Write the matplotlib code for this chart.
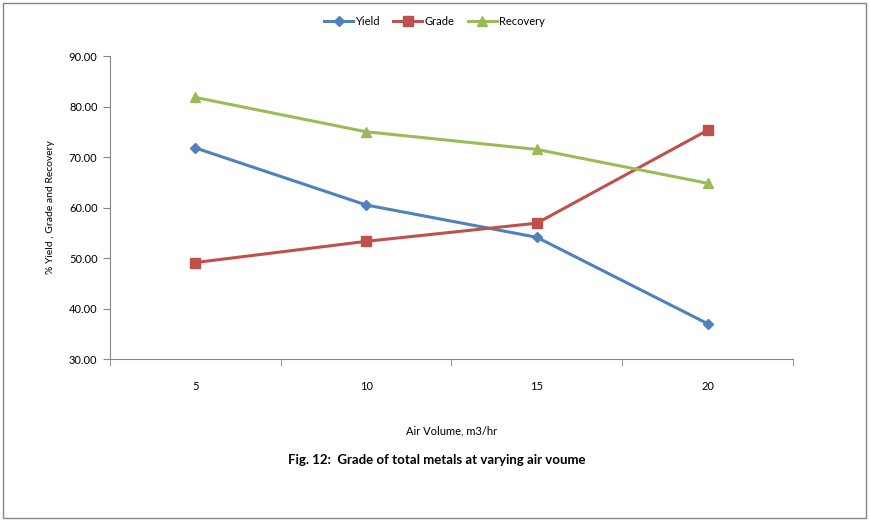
import matplotlib.pyplot as plt
from matplotlib.patches import Rectangle

plt.rcParams['font.family'] = ['Lato', 'DejaVu Sans']

air_volume = ['5', '10', '15', '20']
yield_pct = [71.8, 60.5, 54.1, 37.0]
grade_pct = [49.1, 53.3, 56.9, 75.3]
recovery_pct = [81.8, 75.0, 71.5, 64.8]

fig = plt.figure(figsize=(8.69, 5.20), dpi=100)
ax = fig.add_axes([0.1266, 0.3096, 0.7859, 0.5827])

x = range(len(air_volume))
ax.plot(x, yield_pct, color='#4F81BD', lw=2.2, marker='D', ms=5.5, label='Yield')
ax.plot(x, grade_pct, color='#C0504D', lw=2.2, marker='s', ms=6.5, label='Grade')
ax.plot(x, recovery_pct, color='#9BBB59', lw=2.2, marker='^', ms=7.5, label='Recovery')

ax.set_xlim(-0.5, 3.5)
ax.set_ylim(30, 90)
ax.set_yticks(range(30, 91, 10))
ax.set_yticklabels(['%.2f' % v for v in range(30, 91, 10)])
ax.set_xticks(list(x))
ax.set_xticklabels(air_volume)
ax.set_xticks([-0.5, 0.5, 1.5, 2.5, 3.5], minor=True)
ax.tick_params(axis='x', which='major', length=0, pad=16, labelsize=8)
ax.tick_params(axis='x', which='minor', length=5, color='#868686', direction='out')
ax.tick_params(axis='y', length=5, color='#868686', labelsize=8, pad=4)

for s in ['top', 'right']:
    ax.spines[s].set_visible(False)
for s in ['left', 'bottom']:
    ax.spines[s].set_color('#868686')

ax.set_ylabel('% Yield , Grade and Recovery', fontsize=7.5, labelpad=10)
ax.set_xlabel('Air Volume, m3/hr', fontsize=8, labelpad=24)

fig.text(0.503, 0.115, 'Fig. 12:  Grade of total metals at varying air voume',
         ha='center', va='center', fontsize=9.5, fontweight='bold')

ax.legend(loc='center', bbox_to_anchor=(0.5, 0.958), bbox_transform=fig.transFigure,
          ncol=3, frameon=False, fontsize=8, handlelength=2.6, columnspacing=1.2,
          handletextpad=0.2)

fig.patches.append(Rectangle((0.003, 0.004), 0.994, 0.99, transform=fig.transFigure,
                             fill=False, edgecolor='#868686', lw=1.0))

fig.savefig('out.png', dpi=100)
